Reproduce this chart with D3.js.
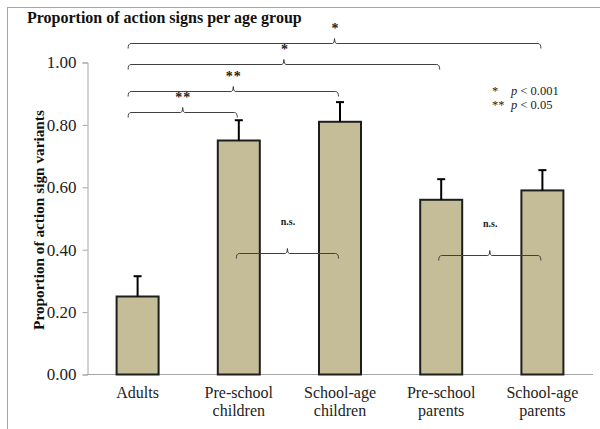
<!DOCTYPE html>
<html>
<head>
<meta charset="utf-8">
<script src="https://cdn.jsdelivr.net/npm/d3@7"></script>
<style>
  body { margin: 0; background: #fff; }
  svg { display: block; font-family: "Liberation Serif", "Times New Roman", serif; }
</style>
</head>
<body>
<svg width="600" height="429"></svg>
<script>
var groups = ["Adults", "Pre-school children", "School-age children", "Pre-school parents", "School-age parents"];
var groupLines = [["Adults"], ["Pre-school", "children"], ["School-age", "children"], ["Pre-school", "parents"], ["School-age", "parents"]];
var proportions = [0.25, 0.75, 0.81, 0.56, 0.59];
var errorUp = [0.065, 0.065, 0.063, 0.066, 0.065];
var yTicks = [0, 0.2, 0.4, 0.6, 0.8, 1.0];

// significance brackets: from group, to group, label, height (in y units)
var comparisons = [
  { from: 0, to: 1, label: "**", level: 0.842 },
  { from: 0, to: 2, label: "**", level: 0.909 },
  { from: 0, to: 3, label: "*", level: 0.994 },
  { from: 0, to: 4, label: "*", level: 1.063 },
  { from: 1, to: 2, label: "n.s.", level: 0.388 },
  { from: 3, to: 4, label: "n.s.", level: 0.383 }
];
var legendRows = [["*", "p < 0.001"], ["**", "p < 0.05"]];

var svg = d3.select('svg');

// outer frame (cut off on right / bottom like the reference)
svg.append('rect')
  .attr('x', 7.5).attr('y', 7.5)
  .attr('width', 800).attr('height', 600)
  .attr('fill', 'none')
  .attr('stroke', '#a6a6a6');

var x = d3.scaleBand()
  .domain(groups)
  .range([87, 593])
  .paddingInner(0.585)
  .paddingOuter(0.2925);

var y = d3.scaleLinear()
  .domain([0, 1])
  .range([374.5, 62.5]);

// x axis line
svg.append('line')
  .attr('x1', 87).attr('x2', 593)
  .attr('y1', y(0)).attr('y2', y(0))
  .attr('stroke', '#a6a6a6');

// y axis
var yAxis = svg.append('g')
  .attr('transform', 'translate(87.5,0)')
  .call(d3.axisLeft(y).tickValues(yTicks).tickFormat(d3.format('.2f')).tickSize(5).tickPadding(6));
yAxis.select('.domain').attr('stroke', '#a6a6a6');
yAxis.selectAll('.tick line').attr('stroke', '#a6a6a6');
yAxis.selectAll('.tick text')
  .attr('font-family', '"Liberation Serif", serif')
  .attr('font-size', 17)
  .attr('fill', '#222');

// bars
svg.selectAll('rect.bar')
  .data(groups)
  .enter()
  .append('rect')
    .attr('class', 'bar')
    .attr('x', d => x(d))
    .attr('width', x.bandwidth())
    .attr('y', (d, i) => y(proportions[i]))
    .attr('height', (d, i) => y(0) - y(proportions[i]))
    .attr('fill', '#c4bd97')
    .attr('stroke', '#1e1e1e')
    .attr('stroke-width', 2);

// error bars (upper only)
var err = svg.selectAll('g.err')
  .data(groups)
  .enter()
  .append('g')
    .attr('class', 'err');
err.append('line')
  .attr('x1', d => x(d) + x.bandwidth() / 2)
  .attr('x2', d => x(d) + x.bandwidth() / 2)
  .attr('y1', (d, i) => y(proportions[i]))
  .attr('y2', (d, i) => y(proportions[i] + errorUp[i]))
  .attr('stroke', '#000')
  .attr('stroke-width', 2);
err.append('line')
  .attr('x1', d => x(d) + x.bandwidth() / 2 - 4)
  .attr('x2', d => x(d) + x.bandwidth() / 2 + 4)
  .attr('y1', (d, i) => y(proportions[i] + errorUp[i]))
  .attr('y2', (d, i) => y(proportions[i] + errorUp[i]))
  .attr('stroke', '#000')
  .attr('stroke-width', 2);

// brackets
function bracketPath(x1, x2, yy) {
  var m = (x1 + x2) / 2;
  return 'M' + x1 + ',' + (yy + 5) +
    'Q' + x1 + ',' + yy + ' ' + (x1 + 3) + ',' + yy +
    'H' + (m - 2) +
    'Q' + m + ',' + yy + ' ' + m + ',' + (yy - 5) +
    'Q' + m + ',' + yy + ' ' + (m + 2) + ',' + yy +
    'H' + (x2 - 3) +
    'Q' + x2 + ',' + yy + ' ' + x2 + ',' + (yy + 5);
}
var cx = i => x(groups[i]) + x.bandwidth() / 2;
var startX = d => d.from === 0 ? cx(0) - 10 : cx(d.from) - 3;

var br = svg.selectAll('g.bracket')
  .data(comparisons)
  .enter()
  .append('g')
    .attr('class', 'bracket');
br.append('path')
  .attr('d', d => bracketPath(startX(d) + 0.5, cx(d.to) - 1.5, Math.round(y(d.level)) + 0.5))
  .attr('fill', 'none')
  .attr('stroke', '#404040')
  .attr('stroke-width', 1);
br.append('text')
  .attr('x', d => (startX(d) + cx(d.to)) / 2)
  .attr('y', d => d.label === 'n.s.' ? y(d.level) - 28 : y(d.level) - 10)
  .attr('text-anchor', 'middle')
  .attr('font-weight', 'bold')
  .attr('font-size', d => d.label === 'n.s.' ? 10 : 14)
  .attr('letter-spacing', d => d.label === '**' ? 1 : 0)
  .attr('fill', '#222')
  .text(d => d.label);

// p-value legend
var lg = svg.append('g');
legendRows.forEach(function (r, i) {
  lg.append('text')
    .attr('x', 492).attr('y', 95 + i * 14)
    .attr('font-size', 12.5)
    .attr('fill', '#222')
    .text(r[0]);
  var t = lg.append('text')
    .attr('x', 511).attr('y', 95 + i * 14)
    .attr('font-size', 12.5)
    .attr('fill', '#222');
  t.append('tspan').attr('font-style', 'italic').text('p');
  t.append('tspan').text(r[1].slice(1));
});

// x labels
var xl = svg.selectAll('text.xlab')
  .data(groups)
  .enter()
  .append('text')
    .attr('class', 'xlab')
    .attr('text-anchor', 'middle')
    .attr('font-size', 16)
    .attr('fill', '#222')
    .attr('x', d => x(d) + x.bandwidth() / 2)
    .attr('y', 398);
xl.selectAll('tspan')
  .data((d, i) => groupLines[i])
  .enter()
  .append('tspan')
    .attr('x', function () { return this.parentNode.getAttribute('x'); })
    .attr('dy', (d, i) => i === 0 ? 0 : 18)
    .text(d => d);

// y title
svg.append('text')
  .attr('transform', 'translate(44,220) rotate(-90)')
  .attr('text-anchor', 'middle')
  .attr('font-weight', 'bold')
  .attr('font-size', 15.3)
  .attr('fill', '#111')
  .text('Proportion of action sign variants');

// chart title
svg.append('text')
  .attr('x', 27).attr('y', 23)
  .attr('font-weight', 'bold')
  .attr('font-size', 16)
  .attr('fill', '#111')
  .text('Proportion of action signs per age group');
</script>
</body>
</html>
